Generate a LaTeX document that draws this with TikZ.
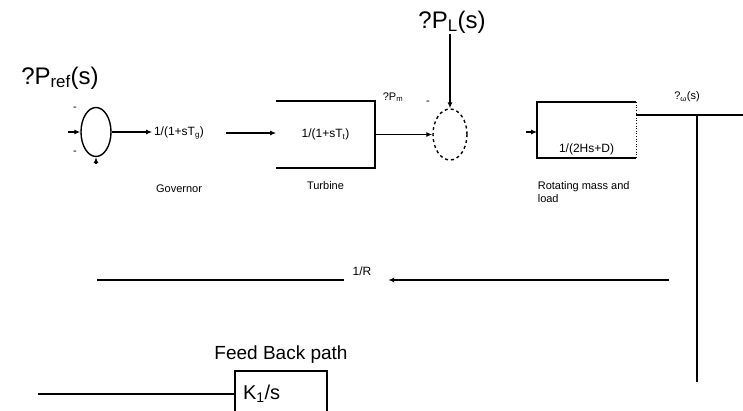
\documentclass[tikz,border=0pt]{standalone}
\usepackage{fontspec}
\setmainfont{Liberation Sans}
\usetikzlibrary{shapes.geometric,calc,arrows.meta,positioning}

\begin{document}
\begin{tikzpicture}[x=1pt, y=-1pt, >={Latex[length=6pt,width=5pt]}, line width=1.6pt,
  bigtxt/.style={font=\fontsize{24}{26}\selectfont, inner sep=0pt},
  tf/.style={font=\fontsize{12}{14}\selectfont, inner sep=1pt},
  lbl/.style={font=\fontsize{11}{13}\selectfont, inner sep=0pt},
  summer/.style={draw, ellipse, line width=1.4pt, inner sep=0pt}]
\useasboundingbox[fill=white] (0,0) rectangle (743,411);
% forward path
\node[bigtxt] (pref) at (60,78) {?P\textsubscript{ref}(s)};
\node[summer, minimum width=30pt, minimum height=49pt] (sumA) at (96,132) {};
\node[lbl] (signA) at (75,109) {-};
\node[lbl] (signB) at (75,153) {-};
\coordinate (inA) at (68,132);
\coordinate (inB) at (96,164);
\draw[->] (inA) -- (sumA.west);
\draw[->] (inB) -- (sumA.south);
\node[tf] (gov) at (179,133) {1/(1+sT\textsubscript{g})};
\draw[->] (sumA.east) -- (sumA.east -| gov.west);
\node[lbl, below=43pt of gov] (govlbl) {Governor};
\node[tf, minimum width=97pt, minimum height=65pt] (turb) at (325.5,134.5) {1/(1+sT\textsubscript{t})};
\draw (turb.north west) -- (turb.north east) -- (turb.south east) -- (turb.south west);
\node[lbl, below=13pt of turb] (turblbl) {Turbine};
\draw[->, shorten <=20pt] (gov.east) -- (gov.east -| turb.west);
\node[summer, dashed, minimum width=34pt, minimum height=51pt] (sumB) at (450,134.5) {};
\draw[->] (turb.east) -- (sumB.west);
\node[lbl] (pm) at (393,97) {?P\textsubscript{m}};
\node[lbl] (signC) at (428,103) {-};
\node[bigtxt] (pl) at (452,22) {?P\textsubscript{L}(s)};
\draw[->] (sumB.north |- pl.south) -- (sumB.north);
% rotating mass and load
\node[minimum width=97pt, minimum height=54pt] (mass) at (586.5,130) {};
\draw (mass.north east) -- (mass.north west) -- (mass.south west) -- (mass.south east);
\draw[dotted, line width=0.6pt] (mass.north east) -- (mass.south east);
\node[tf, above=1pt of mass.south] (masstf) {1/(2Hs+D)};
\coordinate (inM) at (526,132);
\draw[->] (inM) -- (inM -| mass.west);
\node[lbl, align=left, anchor=west] (masslbl) at (537,192) {Rotating mass and\\load};
\coordinate (wout) at (743,115);
\draw (mass.east |- wout) -- (wout);
\node[lbl] (wlbl) at (687,97) {?\textsubscript{ω}(s)};
% feedback
\coordinate (tap) at (697,115);
\coordinate (fbdown) at (697,382);
\draw (tap) -- (fbdown);
\node[tf] (invR) at (362,271) {1/R};
\coordinate (fbR) at (669,280);
\coordinate (fbL) at (97,280);
\draw[->, shorten >=15pt] (fbR) -- (fbR -| invR.east);
\draw[shorten <=7pt] (invR.west |- fbL) -- (fbL);
\node[draw, minimum width=92pt, minimum height=46pt, inner sep=8pt, text width=76pt, align=left, font=\fontsize{20}{22}\selectfont] (kbox) at (281,394) {K\textsubscript{1}/s};
\node[font=\fontsize{19}{21}\selectfont, inner sep=0pt, above=6pt of kbox] (fbp) {Feed Back path};
\coordinate (kin) at (38,394);
\draw (kin) -- (kbox.west);
\end{tikzpicture}
\end{document}
